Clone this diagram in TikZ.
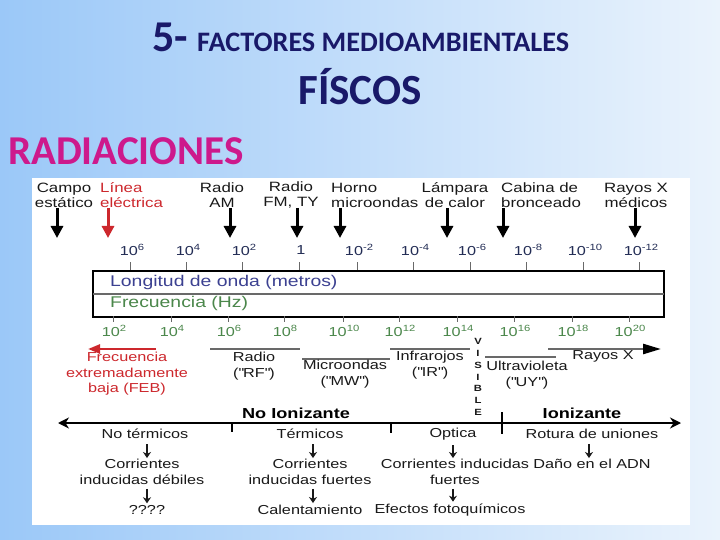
\documentclass[tikz,border=0pt]{standalone}
\usepackage{fontspec}
\setmainfont{Liberation Sans}
\newfontfamily\dg[FakeStretch=1.25]{Liberation Sans}
\newfontfamily\ttl{Carlito}
\usetikzlibrary{arrows.meta}
\definecolor{navy}{RGB}{25,25,105}
\definecolor{magent}{RGB}{205,25,140}
\definecolor{febred}{RGB}{205,40,45}
\definecolor{wlblue}{RGB}{60,65,145}
\definecolor{hzgreen}{RGB}{75,135,75}
\definecolor{expdark}{RGB}{35,45,85}
\definecolor{bandgrey}{RGB}{105,105,105}
\definecolor{txt}{RGB}{25,25,25}
\definecolor{bgl}{RGB}{155,200,248}
\definecolor{bgr}{RGB}{234,243,252}
\newcommand{\tenp}[1]{10\raisebox{0.8ex}{\fontsize{9}{9}\selectfont #1}}
\tikzset{
  toplab/.style={font=\dg\fontsize{13.5}{15}\selectfont, align=center, inner sep=0pt, text=txt},
  bandlab/.style={font=\dg\fontsize{13}{15.5}\selectfont, align=center, inner sep=0pt, text=txt},
  botlab/.style={font=\dg\fontsize{13}{16}\selectfont, align=center, inner sep=0pt, text=txt},
  explab/.style={font=\dg\fontsize{13}{13}\selectfont, inner sep=0pt},
  toparr/.style={line width=3pt, -{Triangle[length=12pt,width=12pt]}},
  smarr/.style={line width=1.2pt, -{Stealth[length=6pt,width=8pt]}, txt, shorten >=6pt},
  tick/.style={line width=1pt, bandgrey},
  band/.style={line width=2.5pt, bandgrey},
}
\begin{document}
\begin{tikzpicture}[x=1pt,y=-1pt]
\useasboundingbox (0,0) rectangle (720,540);
\shade[left color=bgl, right color=bgr] (0,0) rectangle (720,540);
% titles
\node[font=\ttl\bfseries\fontsize{44}{44}\selectfont, text=navy, anchor=base west, inner sep=0pt] (t5) at (152,52) {5-};
\node[font=\ttl\bfseries\fontsize{28.2}{28.2}\selectfont, text=navy, anchor=base west, inner sep=0pt] (tfac) at (197,52) {FACTORES MEDIOAMBIENTALES};
\node[font=\ttl\bfseries\fontsize{43}{43}\selectfont, text=navy, anchor=base, inner sep=0pt] (tfis) at (360,105) {FÍSCOS};
\node[font=\ttl\bfseries\fontsize{41}{41}\selectfont, text=magent, anchor=base west, inner sep=0pt] (trad) at (8,165) {RADIACIONES};
% panel
\fill[white] (32,178) rectangle (690,525);
% top labels
\node[toplab] (l1) at (64,195) {Campo\\estático};
\node[toplab, align=left, anchor=west, text=febred] (l2) at (100,195) {Línea\\eléctrica};
\node[toplab] (l3) at (222,195) {Radio\\AM};
\node[toplab] (l4) at (291,195) {Radio\\FM, TY};
\node[toplab, align=left, anchor=west] (l5) at (331,195) {Horno\\microondas};
\node[toplab] (l6) at (455,195) {Lámpara\\de calor};
\node[toplab, align=left, anchor=west] (l7) at (501,195) {Cabina de\\bronceado};
\node[toplab] (l8) at (636,195) {Rayos X\\médicos};
% top arrows
\foreach \n/\x in {1/57,2/108,3/230,4/297,5/340,6/447,7/503,8/635}{
  \coordinate (a\n t) at (\x,208);
  \coordinate (a\n b) at (\x,238);
}
\draw[toparr] (a1t) -- (a1b);
\draw[toparr, febred] (a2t) -- (a2b);
\foreach \n in {3,...,8}{\draw[toparr] (a\n t) -- (a\n b);}
% top exponent labels and ticks
\foreach \n/\x/\e in {1/130/\tenp{6},2/186/\tenp{4},3/242/\tenp{2},4/299/1,5/357/\tenp{-2},6/413/\tenp{-4},7/470/\tenp{-6},8/526/\tenp{-8},9/583/\tenp{-10},10/639/\tenp{-12}}{
  \node[explab, text=expdark] (w\n) at (\x+2,250) {\e};
  \coordinate (wt\n) at (\x,262);
  \coordinate (wb\n) at (\x,270);
  \draw[tick] (wt\n) -- (wb\n);
}
% box
\node[draw=black, line width=2pt, fill=white, minimum width=571pt, minimum height=46pt, anchor=north west, inner sep=0pt] (box) at (92,270) {};
\draw[line width=2.5pt, bandgrey] ([xshift=1pt]box.west) -- ([xshift=-1pt]box.east);
\node[font=\dg\fontsize{15.5}{15.5}\selectfont, text=wlblue, anchor=west, inner sep=0pt] (lw) at (110,282) {Longitud de onda (metros)};
\node[font=\dg\fontsize{15.5}{15.5}\selectfont, text=hzgreen, anchor=west, inner sep=0pt] (lf) at (110,303) {Frecuencia (Hz)};
% bottom exponent labels and ticks
\foreach \n/\x/\e in {1/113/2,2/171/4,3/228/6,4/284/8,5/343/10,6/399/12,7/457/14,8/514/16,9/572/18,10/629/20}{
  \node[explab, text=hzgreen] (f\n) at (\x+1,331) {\tenp{\e}};
  \coordinate (ft\n) at (\x,316);
  \coordinate (fb\n) at (\x,322);
  \draw[tick] (ft\n) -- (fb\n);
}
% bands
\coordinate (feb1) at (156,349); \coordinate (feb2) at (88,349);
\draw[line width=2.5pt, febred, -{Triangle[length=12pt,width=9pt]}] (feb1) -- (feb2);
\node[bandlab, text=febred] (feb) at (127,374) {Frecuencia\\extremadamente\\baja (FEB)};
\coordinate (rf1) at (210,349); \coordinate (rf2) at (300,349);
\draw[band] (rf1) -- (rf2);
\node[bandlab] (rf) at (254,366) {Radio\\(\textquotedbl RF\textquotedbl)};
\coordinate (mw1) at (302,359); \coordinate (mw2) at (390,359);
\draw[band] (mw1) -- (mw2);
\node[bandlab] (mw) at (345,374) {Microondas\\(\textquotedbl MW\textquotedbl)};
\coordinate (ir1) at (390,349); \coordinate (ir2) at (470,349);
\draw[band] (ir1) -- (ir2);
\node[bandlab] (ir) at (430,365) {Infrarojos\\(\textquotedbl IR\textquotedbl)};
\node[font=\dg\bfseries\fontsize{9}{11.8}\selectfont, align=center, inner sep=0pt, text=txt] (vis) at (478,377) {V\\I\\S\\I\\B\\L\\E};
\coordinate (uv1) at (485,357); \coordinate (uv2) at (556,357);
\draw[band] (uv1) -- (uv2);
\node[bandlab] (uv) at (527,375) {Ultravioleta\\(\textquotedbl UY\textquotedbl)};
\coordinate (x1) at (548,349); \coordinate (x2) at (661,349);
\draw[band, -{Triangle[length=18pt,width=10pt,black]}] (x1) -- (x2);
\node[bandlab] (xr) at (603,356) {Rayos X};
% ionizing axis
\node[font=\dg\bfseries\fontsize{14.5}{14.5}\selectfont, inner sep=0pt, text=black] (noion) at (296,413) {No Ionizante};
\node[font=\dg\bfseries\fontsize{14.5}{14.5}\selectfont, inner sep=0pt, text=black] (ion) at (582,413) {Ionizante};
\coordinate (axL) at (58,423); \coordinate (axR) at (681,423);
\draw[line width=2.5pt, {Stealth[length=11pt,width=11pt]}-{Stealth[length=11pt,width=11pt]}] (axL) -- (axR);
\coordinate (k1a) at (232,423); \coordinate (k1b) at (232,432);
\coordinate (k2a) at (391,423); \coordinate (k2b) at (391,433);
\coordinate (k3a) at (502,412); \coordinate (k3b) at (502,434);
\draw[line width=2pt] (k1a) -- (k1b);
\draw[line width=2pt] (k2a) -- (k2b);
\draw[line width=2pt] (k3a) -- (k3b);
% columns
\node[botlab] (c1a) at (145,434) {No térmicos};
\node[botlab] (c1b) at (142,472) {Corrientes\\inducidas débiles};
\node[botlab] (c1c) at (147,510) {????};
\node[botlab] (c2a) at (310,434) {Térmicos};
\node[botlab] (c2b) at (310,472) {Corrientes\\inducidas fuertes};
\node[botlab] (c2c) at (310,510) {Calentamiento};
\node[botlab] (c3a) at (453,434) {Optica};
\node[botlab] (c3b) at (455,472) {Corrientes inducidas\\fuertes};
\node[botlab] (c3c) at (450,510) {Efectos fotoquímicos};
\node[botlab] (c4a) at (592,434) {Rotura de uniones};
\node[botlab] (c4b) at (592,464) {Daño en el ADN};
\draw[smarr] ([xshift=2pt,yshift=-5pt]c1a.south) -- ([xshift=2pt,yshift=-5pt]c1a.south |- c1b.north);
\draw[smarr] ([xshift=5pt,yshift=-4pt]c1b.south) -- ([xshift=5pt,yshift=-4pt]c1b.south |- c1c.north);
\draw[smarr] ([xshift=3pt,yshift=-5pt]c2a.south) -- ([xshift=3pt,yshift=-5pt]c2a.south |- c2b.north);
\draw[smarr] ([xshift=3pt,yshift=-4pt]c2b.south) -- ([xshift=3pt,yshift=-4pt]c2b.south |- c2c.north);
\draw[smarr] ([yshift=-5pt]c3a.south) -- ([yshift=-5pt]c3a.south |- c3b.north);
\draw[smarr] ([xshift=-2pt,yshift=-4pt]c3b.south) -- ([xshift=-2pt,yshift=-4pt]c3b.south |- c3c.north);
\draw[smarr] ([xshift=-3pt,yshift=-5pt]c4a.south) -- ([xshift=-3pt,yshift=-5pt]c4a.south |- c4b.north);
\end{tikzpicture}
\end{document}
